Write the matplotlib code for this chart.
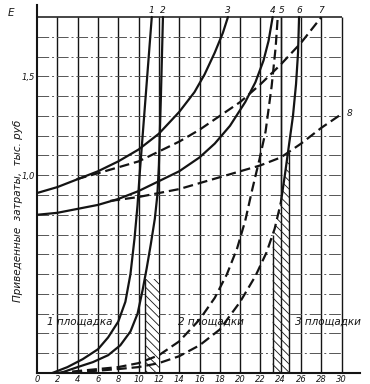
import numpy as np
import matplotlib.pyplot as plt

# ---- curves (x - thousands of units, y - E) ----
# site 1
c1_x = [1.5, 3.0, 4.5, 6.0, 7.0, 8.0, 8.7, 9.2, 9.6, 9.9, 10.1, 10.7, 11.3]
c1_y = [0.0, 0.03, 0.07, 0.12, 0.18, 0.26, 0.36, 0.5, 0.68, 0.85, 1.0, 1.4, 1.8]
c2_x = [2.3, 4.0, 5.5, 7.0, 8.2, 9.2, 9.9, 10.4, 10.8, 11.2, 11.6, 11.85, 12.0, 12.2, 12.4]
c2_y = [0.0, 0.03, 0.055, 0.09, 0.14, 0.21, 0.3, 0.42, 0.53, 0.65, 0.78, 0.9, 1.05, 1.4, 1.8]

# upper family
c3_x = [0, 2, 4, 6, 8, 10, 12, 14, 15.5, 16.5, 17.5, 18.3, 18.8]
c3_y = [0.91, 0.94, 0.98, 1.02, 1.07, 1.13, 1.21, 1.32, 1.42, 1.51, 1.62, 1.72, 1.8]
c7_x = [3.9, 6, 8, 10, 12, 14, 16, 18, 20, 22, 24, 26, 28]
c7_y = [0.98, 1.01, 1.04, 1.07, 1.12, 1.17, 1.23, 1.30, 1.37, 1.46, 1.56, 1.67, 1.8]
c4_x = [0, 2, 4, 6, 8, 10, 12, 14, 16, 17.5, 19, 20.5, 21.5, 22.3, 22.8, 23.2]
c4_y = [0.80, 0.81, 0.83, 0.85, 0.88, 0.92, 0.97, 1.02, 1.09, 1.16, 1.25, 1.37, 1.47, 1.58, 1.68, 1.8]
c8_x = [7.2, 10, 12, 14, 16, 18, 20, 22, 24, 26, 28, 30]
c8_y = [0.87, 0.89, 0.91, 0.93, 0.96, 0.99, 1.02, 1.05, 1.09, 1.16, 1.24, 1.31]

# sites 2 and 3
c5_x = [2, 4, 6, 8, 10, 12, 14, 16, 17.5, 18.7, 19.7, 20.5, 21.2, 21.9, 22.5, 23.1, 23.5, 23.7]
c5_y = [0.0, 0.01, 0.02, 0.03, 0.05, 0.09, 0.16, 0.27, 0.38, 0.5, 0.63, 0.77, 0.93, 1.08, 1.22, 1.45, 1.65, 1.8]
c6d_x = [2, 4, 6, 8, 10, 12, 14, 16, 18, 20, 21.5, 22.6, 23.4, 24.0]
c6d_y = [0.0, 0.005, 0.012, 0.02, 0.03, 0.05, 0.085, 0.14, 0.22, 0.36, 0.49, 0.61, 0.73, 0.86]
c6_x = [24.0, 24.4, 24.8, 25.2, 25.5, 25.7, 25.8]
c6_y = [0.86, 1.0, 1.15, 1.3, 1.46, 1.62, 1.8]

site1_bounds = [10.6, 12.0]
site3_bounds = [23.2, 24.0, 24.7, 24.8]

x_ticks = list(range(0, 31, 2))
site_labels = ["1 площадка", "2 площадки", "3 площадки"]
site_label_x = [1.0, 13.9, 25.4]

INK = "#141414"


def draw_chart():
    fig = plt.figure(figsize=(3.7, 3.84), dpi=100)
    ax = fig.add_axes([0.1, 0.0286, 0.873, 0.958])
    ax.set_xlim(0, 31.8)
    ax.set_ylim(0, 1.86)

    # grid: solid verticals every 2, dash-dot horizontals every 0.1
    ax.vlines(x_ticks[1:], 0, 1.8, color=INK, lw=1.0, zorder=1)
    ys = np.round(np.arange(0.1, 1.8, 0.1), 2)
    ax.hlines(ys, 0, 30, color="#555555", lw=0.7, linestyles=(0, (12, 3, 2, 3)), zorder=1)
    ax.hlines(1.8, 0, 30, color=INK, lw=1.1, zorder=1)

    # hatched zones
    plt.rcParams['hatch.linewidth'] = 0.6
    top1 = np.interp(site1_bounds[0], c2_x, c2_y)
    ax.fill_between(site1_bounds, 0, [top1, top1], facecolor="white",
                    edgecolor=INK, hatch=r"\\\\", lw=0, zorder=2)
    ax.vlines(site1_bounds[0], 0, top1, color=INK, lw=1.0, zorder=3)

    full6_x = c6d_x + c6_x[1:]
    full6_y = c6d_y + c6_y[1:]
    s3 = np.array(site3_bounds)
    top3 = np.minimum(np.interp(s3, full6_x, full6_y), np.interp(s3, c8_x, c8_y))
    ax.fill_between(s3, 0, top3, facecolor="white", edgecolor=INK,
                    hatch=r"\\\\", lw=0, zorder=2)
    ax.vlines([s3[0], s3[-1]], 0, [top3[0], top3[-1]], color=INK, lw=1.0, zorder=3)
    ax.vlines(24, 0, 1.8, color=INK, lw=1.0, zorder=3)

    # curves
    solid = dict(color=INK, lw=1.6, zorder=4, solid_capstyle="round")
    dashed = dict(color=INK, lw=1.6, zorder=4, dashes=(4.5, 2.2))
    ax.plot(c1_x, c1_y, **solid)
    ax.plot(c2_x, c2_y, **solid)
    ax.plot(c3_x, c3_y, **solid)
    ax.plot(c4_x, c4_y, **solid)
    ax.plot(c6_x, c6_y, **solid)
    ax.plot(c7_x, c7_y, **dashed)
    ax.plot(c8_x, c8_y, **dashed)
    ax.plot(c5_x, c5_y, **dashed)
    ax.plot(c6d_x, c6d_y, **dashed)

    # curve numbers
    lab = dict(fontsize=6.5, style="italic", color=INK, ha="center", va="bottom")
    ends = [c1_x[-1], c2_x[-1], c3_x[-1], c4_x[-1], c5_x[-1] + 0.4, c6_x[-1], c7_x[-1]]
    for i, xe in enumerate(ends):
        ax.text(xe, 1.81, str(i + 1), clip_on=False, **lab)
    ax.text(c8_x[-1] + 0.5, c8_y[-1], "8", clip_on=False, fontsize=6.5,
            style="italic", color=INK, ha="left", va="center")

    for txt, xs in zip(site_labels, site_label_x):
        ax.text(xs, 0.26, txt, fontsize=7.5, style="italic", color=INK,
                ha="left", va="center", zorder=5)

    # axes
    for s in ("top", "right"):
        ax.spines[s].set_visible(False)
    for s in ("left", "bottom"):
        ax.spines[s].set_linewidth(1.5)
        ax.spines[s].set_color(INK)
    ax.set_xticks(x_ticks)
    ax.set_xticklabels([str(t) for t in x_ticks], fontsize=6, style="italic")
    ax.set_yticks([1.0, 1.5])
    ax.set_yticklabels(["1,0", "1,5"], fontsize=6, style="italic")
    ax.tick_params(length=0, pad=1.5, colors=INK)
    ax.text(-2.6, 1.82, "E", fontsize=7.5, style="italic", color=INK,
            ha="center", va="center", clip_on=False)
    ax.text(-1.9, 0.82, "Приведенные  затраты,  тыс. руб", rotation=90,
            fontsize=7.5, style="italic", color=INK, ha="center", va="center",
            clip_on=False)

    fig.savefig("out.png", dpi=100)


if __name__ == "__main__":
    draw_chart()
